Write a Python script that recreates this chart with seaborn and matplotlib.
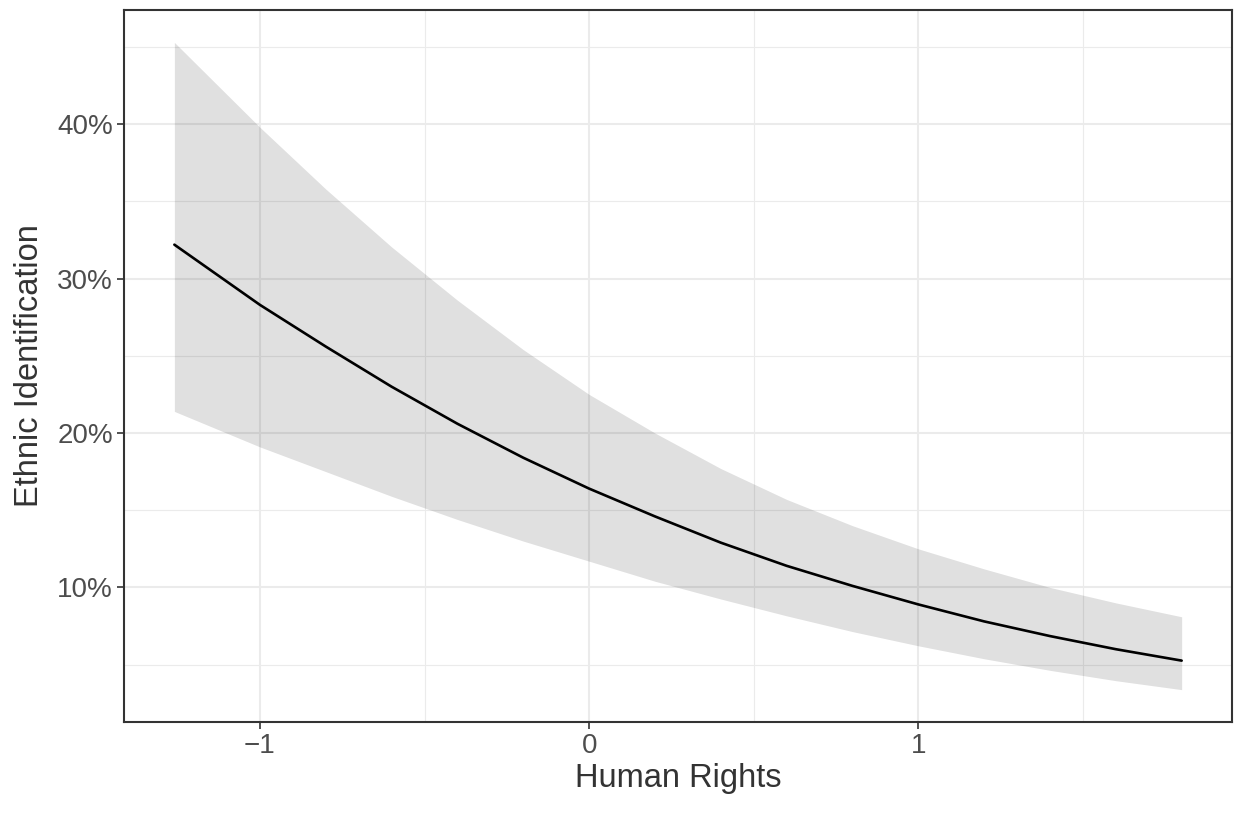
import matplotlib
matplotlib.use("Agg")
import matplotlib.pyplot as plt
import matplotlib.ticker as mticker
import numpy as np
import pandas as pd
import seaborn as sns

# ── Data ─────────────────────────────────────────────────────────────────────
human_rights = [-1.26, -1.0, -0.8, -0.6, -0.4, -0.2, 0.0, 0.2, 0.4, 0.6,
                0.8, 1.0, 1.2, 1.4, 1.6, 1.8]
pred = [0.322, 0.283, 0.256, 0.230, 0.206, 0.184, 0.164, 0.146, 0.129, 0.114,
        0.101, 0.089, 0.078, 0.0685, 0.060, 0.0526]
ci_low = [0.214, 0.191, 0.175, 0.159, 0.144, 0.130, 0.117, 0.104, 0.0925, 0.0816,
          0.0714, 0.0622, 0.0538, 0.0463, 0.0396, 0.0338]
ci_high = [0.453, 0.398, 0.358, 0.3205, 0.286, 0.254, 0.225, 0.200, 0.177, 0.157,
           0.140, 0.125, 0.112, 0.100, 0.090, 0.081]

df = pd.DataFrame({"x": human_rights, "y": pred, "lo": ci_low, "hi": ci_high})

# ── Style ────────────────────────────────────────────────────────────────────
sns.set_theme(style="white")
plt.rcParams["font.family"] = ["Liberation Sans", "DejaVu Sans"]

fig, ax = plt.subplots(figsize=(12.35, 8.14), dpi=100)
fig.subplots_adjust(left=0.1004, right=0.9976, top=0.9877, bottom=0.113)

ax.fill_between(df["x"], df["lo"], df["hi"], color="black", alpha=0.12,
                linewidth=0, zorder=1)
sns.lineplot(data=df, x="x", y="y", ax=ax, color="black", linewidth=1.9,
             zorder=2)

# ggplot-like 5% expansion
xr = df["x"].max() - df["x"].min()
ax.set_xlim(df["x"].min() - 0.05 * xr, df["x"].max() + 0.05 * xr)
yr = df["hi"].max() - df["lo"].min()
ax.set_ylim(df["lo"].min() - 0.05 * yr, df["hi"].max() + 0.05 * yr)

ax.xaxis.set_major_locator(mticker.FixedLocator([-1, 0, 1]))
ax.xaxis.set_minor_locator(mticker.FixedLocator([-0.5, 0.5, 1.5]))
ax.xaxis.set_major_formatter(mticker.FuncFormatter(
    lambda v, _: f"{v:.0f}".replace("-", "\u2212")))
ax.yaxis.set_major_locator(mticker.FixedLocator([0.1, 0.2, 0.3, 0.4]))
ax.yaxis.set_minor_locator(mticker.FixedLocator([0.05, 0.15, 0.25, 0.35, 0.45]))
ax.yaxis.set_major_formatter(mticker.PercentFormatter(1.0, decimals=0))

ax.set_axisbelow(True)
ax.grid(which="major", color="#EBEBEB", linewidth=1.5)
ax.grid(which="minor", color="#EBEBEB", linewidth=0.8)

for sp in ax.spines.values():
    sp.set_visible(True)
    sp.set_color("#333333")
    sp.set_linewidth(1.5)

ax.tick_params(which="major", length=5, width=1.2, color="#333333",
               labelsize=20, labelcolor="#4D4D4D", pad=3,
               bottom=True, left=True)
ax.tick_params(which="minor", length=0)

ax.set_xlabel("Human Rights", fontsize=23.5, color="#333333", labelpad=3)
ax.set_ylabel("Ethnic Identification", fontsize=23.5, color="#333333",
              labelpad=9)

plt.savefig("out.png", dpi=100)
plt.close()
print("Saved out.png")
